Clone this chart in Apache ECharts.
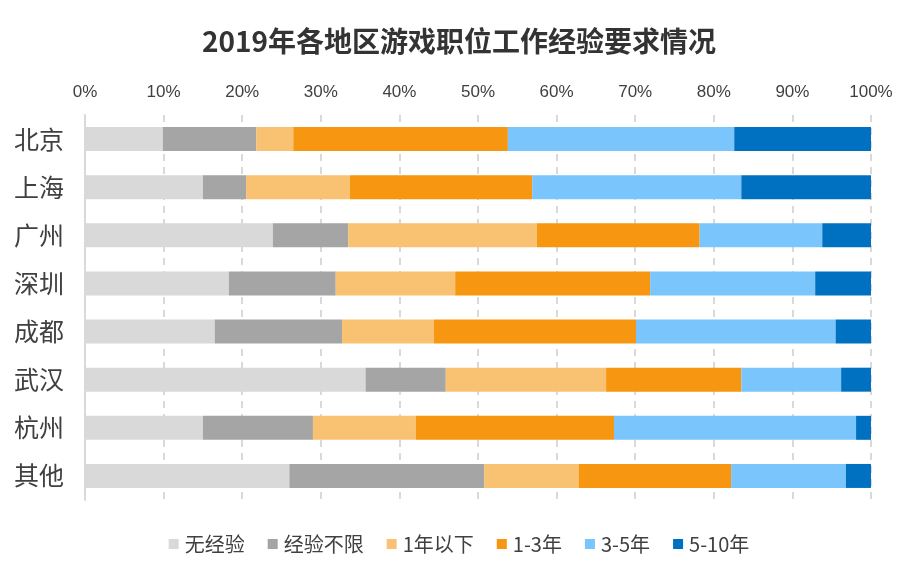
<!DOCTYPE html>
<html>
<head>
<meta charset="utf-8">
<script src="https://cdn.jsdelivr.net/npm/echarts@6/dist/echarts.min.js"></script>
<style>
html,body{margin:0;padding:0;background:#fff;}
#chart{width:918px;height:571px;}
</style>
</head>
<body>
<div id="chart"></div>
<script>
const cities = ['北京','上海','广州','深圳','成都','武汉','杭州','其他'];
const seriesNames = ['无经验','经验不限','1年以下','1-3年','3-5年','5-10年'];
const noExp     = [9.9, 15.0, 23.9, 18.3, 16.5, 35.7, 15.0, 26.0];
const anyExp    = [11.9, 5.5, 9.6, 13.6, 16.2, 10.2, 14.0, 24.8];
const under1    = [4.7, 13.2, 24.0, 15.2, 11.7, 20.4, 13.1, 12.0];
const y1to3     = [27.3, 23.2, 20.7, 24.8, 25.7, 17.2, 25.2, 19.4];
const y3to5     = [28.8, 26.6, 15.6, 21.0, 25.4, 12.7, 30.8, 14.6];
const y5to10    = [17.4, 16.5, 6.2, 7.1, 4.5, 3.8, 1.9, 3.2];
const xTicks = {min: 0, max: 100, interval: 10};
const colors = ['#D9D9D9','#A5A5A5','#F9C172','#F79610','#7AC5FC','#0070C0'];

const allData = [noExp, anyExp, under1, y1to3, y3to5, y5to10];
const chart = echarts.init(document.getElementById('chart'));
chart.setOption({
  animation: false,
  title: {
    text: '2019年各地区游戏职位工作经验要求情况',
    left: 'center', top: 22,
    textStyle: {fontFamily: 'Noto Sans CJK SC', fontSize: 28, fontWeight: 'bold', color: '#333333'}
  },
  legend: {
    bottom: 12, left: 'center',
    itemWidth: 10, itemHeight: 10, itemGap: 23,
    icon: 'rect',
    textStyle: {fontFamily: 'Noto Sans CJK SC', fontSize: 20, color: '#404040', padding: [0,0,0,1]},
    data: seriesNames
  },
  grid: {left: 85, right: 47, top: 115, bottom: 71},
  xAxis: {
    type: 'value', position: 'top',
    min: xTicks.min, max: xTicks.max, interval: xTicks.interval,
    axisLine: {show: false}, axisTick: {show: false},
    axisLabel: {formatter: '{value}%', fontFamily: 'Liberation Sans, Arial', fontSize: 17, color: '#404040', margin: 14},
    splitLine: {show: true, lineStyle: {type: [7, 6], color: '#D9D9D9', width: 2}}
  },
  yAxis: {
    type: 'category', inverse: true, data: cities,
    axisLine: {show: true, lineStyle: {color: '#D9D9D9', width: 2}},
    axisTick: {show: false},
    axisLabel: {fontFamily: 'Noto Sans CJK SC', fontSize: 25, color: '#404040', margin: 21}
  },
  series: seriesNames.map((n, i) => ({
    name: n, type: 'bar', stack: 'total', barWidth: 24,
    itemStyle: {color: colors[i]},
    data: allData[i]
  }))
});
</script>
</body>
</html>
